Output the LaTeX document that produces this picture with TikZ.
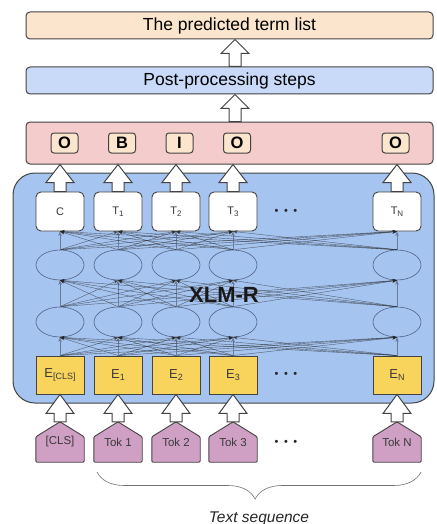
\documentclass[tikz,border=0pt]{standalone}
\usepackage{fontspec}
\setmainfont{Liberation Sans}
\usetikzlibrary{calc,arrows.meta,shapes.geometric,decorations.pathreplacing}

\definecolor{edge}{HTML}{434343}
\definecolor{peach}{HTML}{FCE5CD}
\definecolor{postblue}{HTML}{C9DAF8}
\definecolor{biored}{HTML}{F4CCCC}
\definecolor{modelblue}{HTML}{A6C4F0}
\definecolor{embyellow}{HTML}{F8D45C}
\definecolor{tokpink}{HTML}{CFA0C4}
\definecolor{ellline}{HTML}{4E6084}
\definecolor{vline}{HTML}{6A7C99}
\definecolor{darktext}{HTML}{3A3A3A}

\newcommand{\lowsub}[2][8]{\raisebox{-2.2pt}{\fontsize{#1}{#1}\selectfont #2}}
\newcommand{\blockarrow}[4][0pt]{%
  \draw[barrow] let \p1=(#2.north), \p2=(#3.south) in
    (\x1+#1-6pt,\y1) -- (\x1+#1-6pt,\y2-#4) -- (\x1+#1-14pt,\y2-#4) -- (\x1+#1,\y2)
    -- (\x1+#1+14pt,\y2-#4) -- (\x1+#1+6pt,\y2-#4) -- (\x1+#1+6pt,\y1) -- cycle;}

\tikzset{
  box/.style={draw=edge, line width=1pt, rounded corners=4pt, minimum width=407pt,
    minimum height=27pt, inner sep=0pt, font=\fontsize{17.5}{20}\selectfont},
  model/.style={draw=edge, line width=1pt, fill=modelblue, rounded corners=22pt,
    minimum width=421pt, minimum height=230pt, inner sep=0pt},
  tag/.style={draw=edge, line width=1pt, fill=peach, rounded corners=3pt, minimum width=27pt,
    minimum height=20pt, inner sep=0pt, font=\fontsize{16.5}{18}\selectfont\bfseries},
  outbox/.style={draw=edge, line width=.9pt, fill=white, rounded corners=5pt, minimum width=48pt,
    minimum height=39pt, inner sep=0pt, text=darktext, font=\fontsize{11}{12}\selectfont},
  hid/.style={ellipse, draw=ellline, line width=.6pt, minimum width=48pt, minimum height=30pt,
    inner sep=0pt},
  emb/.style={draw=edge, line width=.9pt, fill=embyellow, minimum width=48pt, minimum height=38pt,
    inner sep=0pt, text=darktext, font=\fontsize{13}{13}\selectfont},
  tokbox/.style={minimum width=48pt, minimum height=40pt, inner sep=0pt, text=darktext,
    font=\fontsize{11.5}{12}\selectfont},
  tokshape/.style={draw=edge, line width=.9pt, fill=tokpink, rounded corners=1.2pt},
  conn/.style={draw=black!85, opacity=.65, line width=.4pt, -{Stealth[length=4.5pt,width=3.5pt]}},
  vconn/.style={draw=vline, line width=.5pt, -{Stealth[length=4.5pt,width=3.5pt]}},
  barrow/.style={draw=edge, fill=white, line width=1pt, line join=miter},
  dots/.style={text=black!85, font=\fontsize{11}{12}\selectfont},
  brace/.style={draw=black!55, line width=.6pt,
    decorate, decoration={brace, mirror, amplitude=27pt, aspect=.488}}
}

\begin{document}
\begin{tikzpicture}[x=1pt, y=-1pt]
    \useasboundingbox (0,0) rectangle (436,524);

    \node[model] (model) at (223.5,288) {};
    \node[box, fill=peach] (terms) at (229.5,25.5) {The predicted term list};
    \node[box, fill=postblue] (post) at (229.5,80.5) {Post-processing steps};
    \node[box, fill=biored, minimum height=42pt] (bio) at (229.5,143) {};

    \node[tag] (o1) at (64.5,143) {O};
    \node[tag] (o2) at (122,143) {B};
    \node[tag] (o3) at (179.5,143) {I};
    \node[tag] (o4) at (237,143) {O};
    \node[tag] (o5) at (395.5,143) {O};

    \node[outbox] (t1) at (60,211.5) {C};
    \node[outbox] (t2) at (118,211.5) {T\lowsub{1}};
    \node[outbox] (t3) at (176,211.5) {T\lowsub{2}};
    \node[outbox] (t4) at (233,211.5) {T\lowsub{3}};
    \node[outbox] (t5) at (397,211.5) {T\lowsub{N}};

    \foreach \x [count=\i] in {60,118,176,233,397} {
        \node[hid] (g\i) at (\x,265) {};
        \node[hid] (h\i) at (\x,322) {};
    }

    \node[emb] (e1) at (60,375) {E\lowsub[9]{[CLS]}};
    \node[emb] (e2) at (118,375) {E\lowsub[9]{1}};
    \node[emb] (e3) at (176,375) {E\lowsub[9]{2}};
    \node[emb] (e4) at (233,375) {E\lowsub[9]{3}};
    \node[emb] (e5) at (397,375) {E\lowsub[9]{N}};

    \foreach \a in {1,...,5} {
        \foreach \b in {1,...,5} {
            \ifnum\a=\b\else
                \draw[conn] (e\a.north) -- (h\b.south);
                \draw[conn] (h\a.north) -- (g\b.south);
                \draw[conn] (g\a.north) -- (t\b.south);
            \fi
        }
        \draw[vconn] (e\a.north) -- (h\a.south);
        \draw[vconn] (h\a.north) -- (g\a.south);
        \draw[vconn] (g\a.north) -- (t\a.south);
    }

    \node[font=\fontsize{22}{24}\selectfont\bfseries, text=black!90] (xlmr) at (224,295) {XLM-R};

    \foreach \x [count=\i] in {60,118,176,233,397} {
        \node[tokbox] (k\i) at (\x,442) {};
        \draw[tokshape] (k\i.south west) -- ($(k\i.north west)+(0pt,-15pt)$) -- (k\i.north)
            -- ($(k\i.north east)+(0pt,-15pt)$) -- (k\i.south east) -- cycle;
    }
    \node[tokbox] at (k1) {[CLS]};
    \node[tokbox] at (k2) {Tok 1};
    \node[tokbox] at (k3) {Tok 2};
    \node[tokbox] at (k4) {Tok 3};
    \node[tokbox] at (k5) {Tok N};

    \node[dots] (d1) at (286,212) {\textbullet\hspace{5.5pt}\textbullet\hspace{5.5pt}\textbullet};
    \node[dots] (d2) at (286,375) {\textbullet\hspace{5.5pt}\textbullet\hspace{5.5pt}\textbullet};
    \node[dots] (d3) at (286,443) {\textbullet\hspace{5.5pt}\textbullet\hspace{5.5pt}\textbullet};

    \foreach \i in {1,...,5} {
        \blockarrow{t\i}{bio}{18pt}
        \blockarrow{k\i}{e\i}{19pt}
    }
    \blockarrow[5.5pt]{bio}{post}{14pt}
    \blockarrow[5.5pt]{post}{terms}{14pt}

    \coordinate (bl) at (97,472);
    \coordinate (br) at (421,472);
    \draw[brace] (bl) -- (br);
    \node[anchor=base, font=\fontsize{15.5}{18}\selectfont\itshape, text=black!85] (seq) at (259,522) {Text sequence};

\end{tikzpicture}
\end{document}
